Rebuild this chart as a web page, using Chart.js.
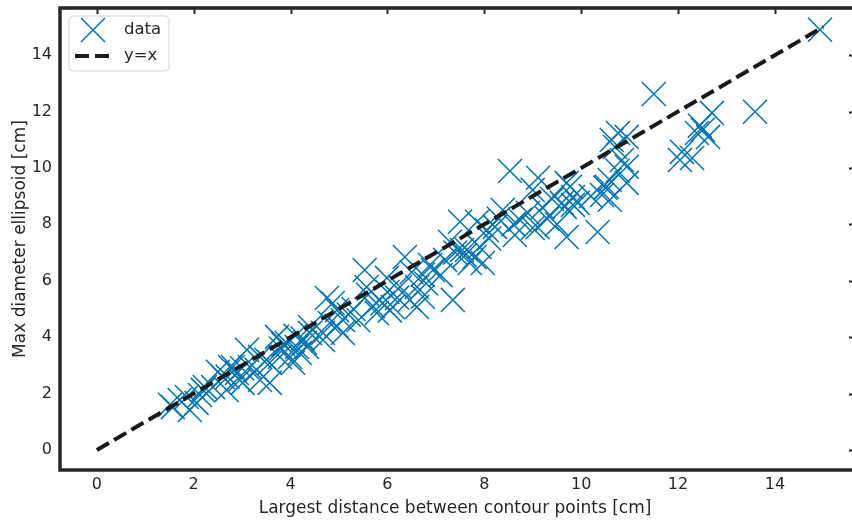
<!DOCTYPE html>
<html>
<head>
<meta charset="utf-8">
<script src="https://cdn.jsdelivr.net/npm/chart.js@4/dist/chart.umd.min.js"></script>
<style>
html,body{margin:0;padding:0;background:#fff;}
#wrap{width:852px;height:523px;position:relative;}
</style>
</head>
<body>
<div id="wrap"><canvas id="c" width="852" height="523"></canvas></div>
<script>
// Largest distance between contour points [cm]
const dataX = [14.93,11.50,13.59,12.70,12.51,12.62,12.39,12.08,12.29,12.04,10.76,10.63,10.94,10.70,10.84,10.94,10.94,10.59,10.53,10.59,10.34,9.77,9.83,9.66,9.70,9.93,8.53,9.11,9.70,9.00,9.60,9.83,10.43,9.00,8.73,8.63,8.38,8.22,8.05,7.85,7.50,7.54,7.80,7.29,7.19,7.97,7.70,6.88,6.73,7.35,6.73,6.36,5.53,4.75,4.87,5.57,5.99,5.84,6.11,5.78,6.26,6.61,6.94,7.64,5.08,4.40,4.67,5.08,6.46,6.61,1.51,1.71,1.92,2.13,2.23,2.60,2.75,2.89,3.16,3.37,3.57,3.01,2.68,3.92,4.13,3.99,4.34,4.40,4.81,4.96,4.67,1.57,1.86,2.06,2.19,2.40,2.50,2.81,2.95,3.30,3.37,3.57,3.10,3.78,4.05,4.19,3.72,4.25,3.85,4.10,4.30,5.30,5.60,5.90,6.00,6.20,5.40,4.95,5.20,6.05,6.50,6.80,7.10,7.40,7.90,8.10,8.30,8.60,8.90,9.20,9.40,9.30,9.10,10.20,10.50,10.75,3.00,2.70,3.50,3.80,9.50,12.45,5.70,7.60];
// Max diameter ellipsoid [cm]
const dataY = [14.90,12.62,11.99,11.95,11.35,11.10,11.24,10.57,10.35,10.28,11.24,10.99,11.10,10.74,10.28,10.04,9.47,9.57,9.33,8.87,7.73,9.33,8.97,8.62,7.55,8.76,9.89,9.65,9.47,9.22,8.76,8.69,9.04,7.87,8.16,7.62,8.51,7.91,7.80,8.09,8.09,7.09,6.84,7.38,6.74,6.63,6.63,6.56,6.21,5.32,5.43,6.84,6.38,5.39,5.21,5.78,6.10,5.32,5.07,4.86,5.78,5.78,6.38,7.09,4.61,4.36,4.15,4.15,5.32,5.07,1.60,1.77,1.42,1.95,2.23,2.59,2.94,2.73,2.94,3.30,3.09,2.38,2.13,3.79,3.65,3.30,3.65,4.15,4.50,4.96,3.90,1.52,1.88,1.67,2.13,2.23,2.77,2.94,2.48,2.84,2.48,2.38,3.55,3.30,3.09,3.44,4.01,3.95,3.75,4.05,3.80,5.00,5.50,5.20,5.60,5.40,4.60,4.40,4.80,4.95,6.30,5.90,6.20,7.00,7.20,7.50,8.20,8.00,8.40,8.60,8.90,8.20,7.90,9.00,9.30,9.90,2.90,2.60,3.20,3.60,8.00,11.50,5.10,6.90];
const refX = [0, 15];
const refY = [0, 15];
const xTicks = [0, 2, 4, 6, 8, 10, 12, 14];
const yTicks = [0, 2, 4, 6, 8, 10, 12, 14];
const legendLabels = ['data', 'y=x'];
const xTitle = 'Largest distance between contour points [cm]';
const yTitle = 'Max diameter ellipsoid [cm]';

const BLUE = '#0173b2';
const DARK = '#262626';
const FONT = "'DejaVu Sans', sans-serif";

const scatterPts = dataX.map((x, i) => ({x: x, y: dataY[i]}));
const refPts = refX.map((x, i) => ({x: x, y: refY[i]}));

const framePlugin = {
  id: 'frame',
  afterDraw(chart) {
    const {ctx, chartArea: a, scales} = chart;
    ctx.save();
    ctx.strokeStyle = DARK;
    ctx.lineWidth = 3.5;
    ctx.lineCap = 'butt';
    ctx.beginPath();
    ctx.moveTo(a.left, a.top);
    ctx.lineTo(a.right + 4, a.top);
    ctx.moveTo(a.left, a.top - 1.75);
    ctx.lineTo(a.left, a.bottom);
    ctx.moveTo(a.left - 1.75, a.bottom);
    ctx.lineTo(a.right + 4, a.bottom);
    ctx.stroke();
    ctx.lineWidth = 2;
    ctx.beginPath();
    xTicks.forEach(v => {
      const px = Math.round(scales.x.getPixelForValue(v)) + 0.5;
      ctx.moveTo(px, a.top);
      ctx.lineTo(px, a.top + 6);
    });
    yTicks.forEach(v => {
      const py = Math.round(scales.y.getPixelForValue(v)) + 0.5;
      ctx.moveTo(a.right - 1, py);
      ctx.lineTo(a.right + 4, py);
    });
    ctx.stroke();

    // legend
    const lx = 69, ly = 16, lw = 100, lh = 55, r = 4;
    ctx.fillStyle = 'rgba(255,255,255,0.85)';
    ctx.strokeStyle = '#d6d6d6';
    ctx.lineWidth = 1;
    ctx.beginPath();
    ctx.moveTo(lx + r, ly);
    ctx.lineTo(lx + lw - r, ly);
    ctx.arcTo(lx + lw, ly, lx + lw, ly + r, r);
    ctx.lineTo(lx + lw, ly + lh - r);
    ctx.arcTo(lx + lw, ly + lh, lx + lw - r, ly + lh, r);
    ctx.lineTo(lx + r, ly + lh);
    ctx.arcTo(lx, ly + lh, lx, ly + lh - r, r);
    ctx.lineTo(lx, ly + r);
    ctx.arcTo(lx, ly, lx + r, ly, r);
    ctx.closePath();
    ctx.fill();
    ctx.stroke();
    ctx.strokeStyle = BLUE;
    ctx.lineWidth = 1.5;
    ctx.beginPath();
    ctx.moveTo(81, 18); ctx.lineTo(105, 42);
    ctx.moveTo(105, 18); ctx.lineTo(81, 42);
    ctx.stroke();
    ctx.strokeStyle = '#1a1a1a';
    ctx.lineWidth = 4;
    ctx.setLineDash([14, 6]);
    ctx.beginPath();
    ctx.moveTo(75, 56); ctx.lineTo(110, 56);
    ctx.stroke();
    ctx.setLineDash([]);
    ctx.fillStyle = DARK;
    ctx.font = '16.5px ' + FONT;
    ctx.textBaseline = 'middle';
    ctx.textAlign = 'left';
    ctx.fillText(legendLabels[0], 124, 30);
    ctx.fillText(legendLabels[1], 124, 56);
    ctx.restore();
  }
};

new Chart(document.getElementById('c'), {
  type: 'scatter',
  data: {
    datasets: [
      {
        label: legendLabels[0],
        data: scatterPts,
        pointStyle: 'crossRot',
        pointRadius: 17,
        pointHoverRadius: 17,
        borderColor: BLUE,
        backgroundColor: BLUE,
        pointBorderWidth: 1.5,
        showLine: false,
        clip: false,
        order: 2
      },
      {
        label: legendLabels[1],
        data: refPts,
        showLine: true,
        borderColor: '#1a1a1a',
        borderWidth: 4,
        borderDash: [14, 6],
        pointRadius: 0,
        fill: false,
        order: 1
      }
    ]
  },
  options: {
    responsive: false,
    animation: false,
    devicePixelRatio: 1,
    layout: {autoPadding: false, padding: {left: 0, right: 2, top: 8, bottom: 0}},
    plugins: {
      legend: {display: false},
      tooltip: {enabled: false}
    },
    scales: {
      x: {
        type: 'linear',
        min: -0.76,
        max: 15.55,
        grid: {display: false, drawTicks: false},
        border: {display: false},
        afterBuildTicks: s => { s.ticks = xTicks.map(v => ({value: v})); },
        afterFit: s => { s.height = 53; s.paddingLeft = 0; s.paddingRight = 0; },
        ticks: {
          color: DARK,
          font: {family: FONT, size: 16},
          padding: 5,
          maxRotation: 0,
          callback: v => String(v)
        },
        title: {
          display: true,
          text: xTitle,
          color: DARK,
          font: {family: FONT, size: 17},
          padding: {top: 0, bottom: 4}
        }
      },
      y: {
        type: 'linear',
        min: -0.71,
        max: 15.67,
        grid: {display: false, drawTicks: false},
        border: {display: false},
        afterBuildTicks: s => { s.ticks = yTicks.map(v => ({value: v})); },
        afterFit: s => { s.width = 60; s.paddingTop = 0; s.paddingBottom = 0; },
        ticks: {
          color: DARK,
          font: {family: FONT, size: 16},
          padding: 8,
          callback: v => String(v)
        },
        title: {
          display: true,
          text: yTitle,
          color: DARK,
          font: {family: FONT, size: 17},
          padding: {top: 10, bottom: 0}
        }
      }
    }
  },
  plugins: [framePlugin]
});
</script>
</body>
</html>
